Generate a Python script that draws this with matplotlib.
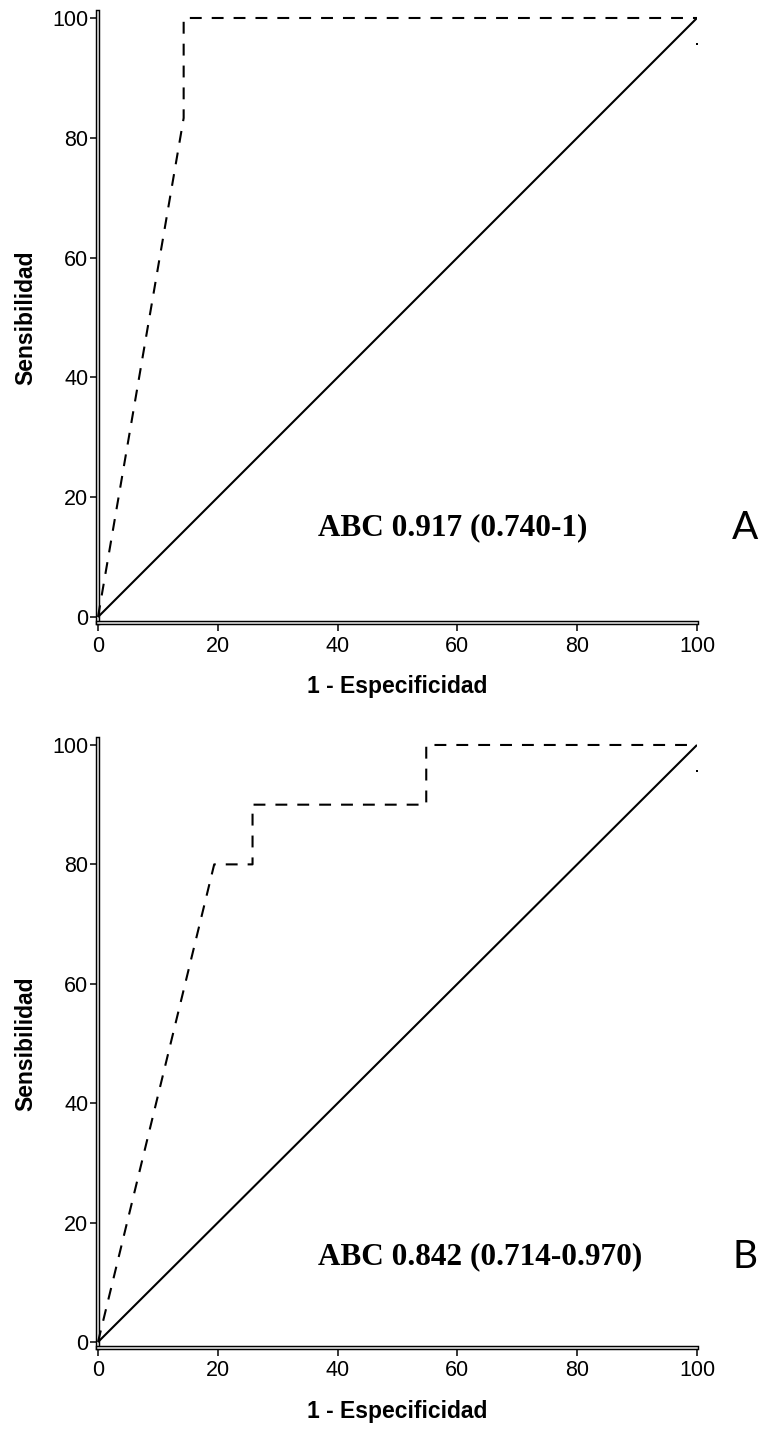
import matplotlib
matplotlib.use("Agg")
import matplotlib.pyplot as plt
import matplotlib.patheffects as pe

# ---- data ----
ref_x = [0, 100]
ref_y = [0, 100]

roc_a_x = [0, 14.3, 14.3, 100]
roc_a_y = [0, 83.3, 100, 100]

roc_b_x = [0, 19.4, 25.8, 25.8, 54.8, 54.8, 100]
roc_b_y = [0, 80, 80, 90, 90, 100, 100]

dot_x = [100]
dot_y = [95.6]

ticks = [0, 20, 40, 60, 80, 100]
xlabel = "1 - Especificidad"
ylabel = "Sensibilidad"
abc_a = "ABC 0.917 (0.740-1)"
abc_b = "ABC 0.842 (0.714-0.970)"
panel_labels = ["A", "B"]

W, H = 762, 1432
fig = plt.figure(figsize=(W / 100, H / 100), dpi=100)

panels = [
    (roc_a_x, roc_a_y, abc_a, 623, 12, 528),
    (roc_b_x, roc_b_y, abc_b, 1348, 739, 1257),
]

for i, (rx, ry, abc, ybot, ytop, ty) in enumerate(panels):
    left = 98 / W
    width = (697 - 98) / W
    bottom = 1 - ybot / H
    height = (ybot - ytop) / H
    ax = fig.add_axes([left, bottom, width, height])
    ax.set_facecolor("none")
    ax.set_xlim(0, 100)
    ax.set_ylim(-1, 101)

    ax.plot(ref_x, ref_y, color="black", lw=1.5, solid_capstyle="butt", zorder=3)
    ax.plot(rx, ry, color="black", lw=1.5, dashes=(5.7, 4.8), zorder=3, clip_on=False)
    ax.plot(dot_x, dot_y, linestyle="none", marker="s", ms=1.6, color="black",
            markeredgewidth=0, clip_on=False)

    for s in ["top", "right"]:
        ax.spines[s].set_visible(False)
    for s in ["left", "bottom"]:
        sp = ax.spines[s]
        sp.set_color("#f0f0f0")
        sp.set_linewidth(1.1)
        sp.set_path_effects([pe.Stroke(linewidth=3.2, foreground="black"), pe.Normal()])

    ax.set_xticks(ticks)
    ax.set_yticks(ticks)
    ax.tick_params(axis="both", direction="out", length=6, width=1.1, color="black",
                   labelsize=15.5, labelcolor="black")
    ax.tick_params(axis="x", pad=3)
    ax.tick_params(axis="y", pad=1)
    for lab in ax.get_xticklabels() + ax.get_yticklabels():
        lab.set_family("Liberation Sans")

    ax.set_xlabel(xlabel, fontsize=16.5, fontweight="bold", family="Liberation Sans",
                  labelpad=13)
    ax.set_ylabel(ylabel, fontsize=16.5, fontweight="bold", family="Liberation Sans",
                  labelpad=11)

    fig.text(318 / W, 1 - ty / H, abc, fontsize=22.5, fontweight="bold",
             family="Liberation Serif", ha="left", va="center")
    fig.text(732 / W, 1 - ty / H, panel_labels[i], fontsize=28, family="Lato",
             ha="left", va="center")

fig.savefig("out.png", dpi=100)
